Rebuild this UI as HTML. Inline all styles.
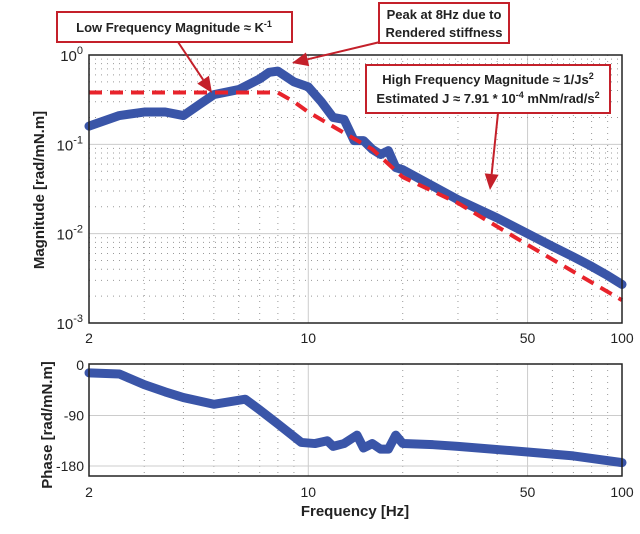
<!DOCTYPE html>
<html><head><meta charset="utf-8"><style>
body{margin:0;background:#fff;}
svg{display:block;font-family:"Liberation Sans",sans-serif;}
</style></head><body>
<svg id="chart" width="640" height="534" viewBox="0 0 640 534" xmlns="http://www.w3.org/2000/svg">
<g id="grid"></g>
<g id="series"></g>
<g id="axes"></g>
<g id="annot"></g>
</svg>
<script>
const magFreq = [2,2.5,3,3.5,4,4.5,5,6,7,7.5,8,9,10,11,12,13,14,15,16,17,18,19,20,25,30,40,50,60,70,80,90,100];
const magVals = [0.16,0.21,0.23,0.23,0.21,0.28,0.36,0.41,0.54,0.64,0.66,0.5,0.44,0.3,0.2,0.19,0.11,0.11,0.088,0.077,0.085,0.055,0.052,0.034,0.024,0.015,0.01,0.0072,0.0055,0.0043,0.0034,0.0027];
const fitFreq = [2,8,9,10,16,20,30,50,100];
const fitVals = [0.38,0.38,0.30,0.23,0.088,0.043,0.022,0.0075,0.0018];
const phFreq = [2,2.5,3,3.5,4,5,6.3,7,8,9.5,10.5,11.5,12,13,14.3,15,16,17,18,19,20,25,30,50,70,100];
const phVals = [-14,-16,-35,-48,-58,-70,-61,-80,-105,-138,-140,-135,-145,-140,-125,-148,-140,-150,-150,-125,-140,-142,-145,-155,-162,-174];
const xTicks = [2,10,50,100];
const magTicks = [0,-1,-2,-3];
const phTicks = [0,-90,-180];

const NS="http://www.w3.org/2000/svg";
const X0=89,X1=622;
function xs(f){return X0+(Math.log10(f)-Math.log10(2))/(Math.log10(100)-Math.log10(2))*(X1-X0);}
const MT=55,MB=323;
function ym(v){return MT+(-Math.log10(v))*(MB-MT)/3;}
const PT=364,PB=476;
function yp(p){return 365+(-p)/90*50.5;}
function mk(tag,attrs,parent,text){const e=document.createElementNS(NS,tag);for(const k in attrs)e.setAttribute(k,attrs[k]);if(text!==undefined)e.textContent=text;parent.appendChild(e);return e;}
const grid=document.getElementById('grid'),series=document.getElementById('series'),axes=document.getElementById('axes'),annot=document.getElementById('annot');

const minorF=[3,4,5,6,7,8,9,20,30,40,60,70,80,90];
[[MT,MB],[PT,PB]].forEach(([t,b])=>{
  minorF.forEach(f=>{const l=mk('line',{x1:xs(f),x2:xs(f),y1:t,y2:b,stroke:'#999','stroke-width':1,'stroke-dasharray':'1,5'},grid);});
  [10,50].forEach(f=>{const l=mk('line',{x1:xs(f),x2:xs(f),y1:t,y2:b,stroke:'#ccc','stroke-width':1},grid);});
});
for(let d=-3;d<0;d++){for(let m=2;m<=9;m++){const y=ym(m*Math.pow(10,d));const l=mk('line',{x1:X0,x2:X1,y1:y,y2:y,stroke:'#999','stroke-width':1,'stroke-dasharray':'1,5'},grid);}}
[-1,-2].forEach(d=>{const y=ym(Math.pow(10,d));const l=mk('line',{x1:X0,x2:X1,y1:y,y2:y,stroke:'#ccc'},grid);});
[-90,-180].forEach(p=>{const l=mk('line',{x1:X0,x2:X1,y1:yp(p),y2:yp(p),stroke:'#ccc'},grid);});

const mp=mk('polyline',{points:magFreq.map((f,i)=>xs(f)+','+ym(magVals[i])).join(' '),fill:'none',stroke:'#3a55a8','stroke-width':9,'stroke-linejoin':'round','stroke-linecap':'round'},series);

const fp=mk('polyline',{points:fitFreq.map((f,i)=>xs(f)+','+ym(fitVals[i])).join(' '),fill:'none',stroke:'#e8232b','stroke-width':4,'stroke-dasharray':'13,8'},series);

const pp=mk('polyline',{points:phFreq.map((f,i)=>xs(f)+','+yp(phVals[i])).join(' '),fill:'none',stroke:'#3a55a8','stroke-width':9,'stroke-linejoin':'round','stroke-linecap':'round'},series);


const b1=mk('rect',{x:X0,y:MT,width:X1-X0,height:MB-MT,fill:'none',stroke:'#222','stroke-width':1.5},axes);
const b2=mk('rect',{x:X0,y:PT,width:X1-X0,height:PB-PT,fill:'none',stroke:'#222','stroke-width':1.5},axes);
xTicks.forEach(f=>{
  const t1=mk('text',{x:xs(f),y:343,'text-anchor':'middle','font-size':14,fill:'#222'},axes,String(f));
  const t2=mk('text',{x:xs(f),y:497,'text-anchor':'middle','font-size':14,fill:'#222'},axes,String(f));
});
magTicks.forEach(d=>{
  const t=mk('text',{x:83,y:ym(Math.pow(10,d))+6,'text-anchor':'end','font-size':15,fill:'#222'},axes,'10');
  mk('tspan',{dy:-7,'font-size':11},t,String(d));
  
});
phTicks.forEach(p=>{const t=mk('text',{x:84,y:yp(p)+5,'text-anchor':'end','font-size':14,fill:'#222'},axes,String(p));});
let t=mk('text',{x:0,y:0,transform:'translate(44,190) rotate(-90)','text-anchor':'middle','font-size':15,'font-weight':'bold',fill:'#222'},axes,'Magnitude [rad/mN.m]');
t=mk('text',{x:0,y:0,transform:'translate(52,425) rotate(-90)','text-anchor':'middle','font-size':15,'font-weight':'bold',fill:'#222'},axes,'Phase [rad/mN.m]');
t=mk('text',{x:355,y:516,'text-anchor':'middle','font-size':15,'font-weight':'bold',fill:'#222'},axes,'Frequency [Hz]');

function arrow(x1,y1,x2,y2,name){
  const g=mk('g',{},annot);
  const a=Math.atan2(y2-y1,x2-x1),L=16,W=7;
  const bx=x2-L*Math.cos(a),by=y2-L*Math.sin(a);
  mk('line',{x1:x1,y1:y1,x2:bx,y2:by,stroke:'#c4202a','stroke-width':2},g);
  mk('polygon',{points:`${x2},${y2} ${bx+W*Math.sin(a)},${by-W*Math.cos(a)} ${bx-W*Math.sin(a)},${by+W*Math.cos(a)}`,fill:'#c4202a'},g);
}
arrow(178,42,212,93,'low-freq-arrow');
arrow(380,42,292,63,'peak-arrow');
arrow(498,113,490,190,'high-freq-arrow');
function box(x,y,w,h,name){const r=mk('rect',{x:x,y:y,width:w,height:h,fill:'#fff',stroke:'#c4202a','stroke-width':2},annot);}
box(57,12,235,30,'low-freq-annotation-box');
t=mk('text',{x:174,y:32,'text-anchor':'middle','font-size':13,'font-weight':'bold',fill:'#222'},annot,'Low Frequency Magnitude ≈ K');mk('tspan',{dy:-5,'font-size':9},t,'-1');
box(379,3,130,40,'peak-annotation-box');
t=mk('text',{x:444,y:19,'text-anchor':'middle','font-size':13,'font-weight':'bold',fill:'#222'},annot,'Peak at 8Hz due to');
t=mk('text',{x:444,y:37,'text-anchor':'middle','font-size':13,'font-weight':'bold',fill:'#222'},annot,'Rendered stiffness');
box(366,65,244,48,'high-freq-annotation-box');
t=mk('text',{x:488,y:84,'text-anchor':'middle','font-size':13,'font-weight':'bold',fill:'#222'},annot,'High Frequency Magnitude ≈ 1/Js');mk('tspan',{dy:-5,'font-size':9},t,'2');
t=mk('text',{x:488,y:103,'text-anchor':'middle','font-size':13,'font-weight':'bold',fill:'#222'},annot,'Estimated J ≈ 7.91 * 10');mk('tspan',{dy:-5,'font-size':9},t,'-4');mk('tspan',{dy:5},t,' mNm/rad/s');mk('tspan',{dy:-5,'font-size':9},t,'2');
</script>
</body></html>
